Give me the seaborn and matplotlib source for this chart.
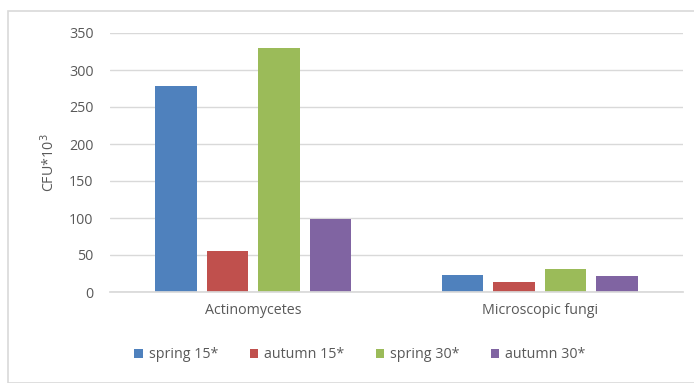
import matplotlib
matplotlib.use("Agg")
import matplotlib.pyplot as plt
import seaborn as sns
import pandas as pd
from matplotlib.patches import Rectangle

groups = ["Actinomycetes", "Microscopic fungi"]
series = ["spring 15*", "autumn 15*", "spring 30*", "autumn 30*"]
spring_15 = [278, 23]
autumn_15 = [56, 14]
spring_30 = [330, 31]
autumn_30 = [98, 21]
colors = ["#4F81BD", "#C0504D", "#9BBB59", "#8064A2"]

rows = []
for name, vals in zip(series, [spring_15, autumn_15, spring_30, autumn_30]):
    for g, v in zip(groups, vals):
        rows.append({"group": g, "season": name, "value": v})
df = pd.DataFrame(rows)

sns.set_theme(style="white")
plt.rcParams["font.family"] = ["Open Sans", "DejaVu Sans"]
text_color = "#595959"
fs = 10.3

fig = plt.figure(figsize=(6.94, 3.83), dpi=100)
ax = fig.add_axes([110 / 694, 1 - 292 / 383, (683 - 110) / 694, (292 - 33) / 383])

sns.barplot(data=df, x="group", y="value", hue="season", hue_order=series,
            palette=colors, width=0.72, gap=0.2, saturation=1,
            linewidth=0, ax=ax, legend=True)

ax.set_xlim(-0.5, 1.5)
ax.set_ylim(0, 350)
ax.set_yticks(range(0, 351, 50))
ax.yaxis.grid(True, color="#D9D9D9", linewidth=1)
ax.set_axisbelow(True)
for s in ["top", "right", "left"]:
    ax.spines[s].set_visible(False)
ax.spines["bottom"].set_color("#D9D9D9")
ax.tick_params(axis="both", length=0, colors=text_color, labelsize=fs)
ax.tick_params(axis="y", pad=12)
ax.tick_params(axis="x", pad=8)
ax.set_xlabel("")
ax.set_ylabel("CFU*10$^3$", color=text_color, fontsize=fs, labelpad=8)

leg = ax.legend(loc="center", bbox_to_anchor=((360 - 110) / 573, (292 - 355) / 259),
                ncol=4, frameon=False, fontsize=fs, handlelength=0.6, handleheight=0.6,
                handletextpad=0.4, columnspacing=2.2)
for t in leg.get_texts():
    t.set_color(text_color)

fig.patches.append(Rectangle((8 / 694, 0), 1, 1 - 11 / 383, transform=fig.transFigure,
                             fill=False, edgecolor="#D9D9D9", linewidth=1.2))

fig.savefig("out.png", dpi=100)
